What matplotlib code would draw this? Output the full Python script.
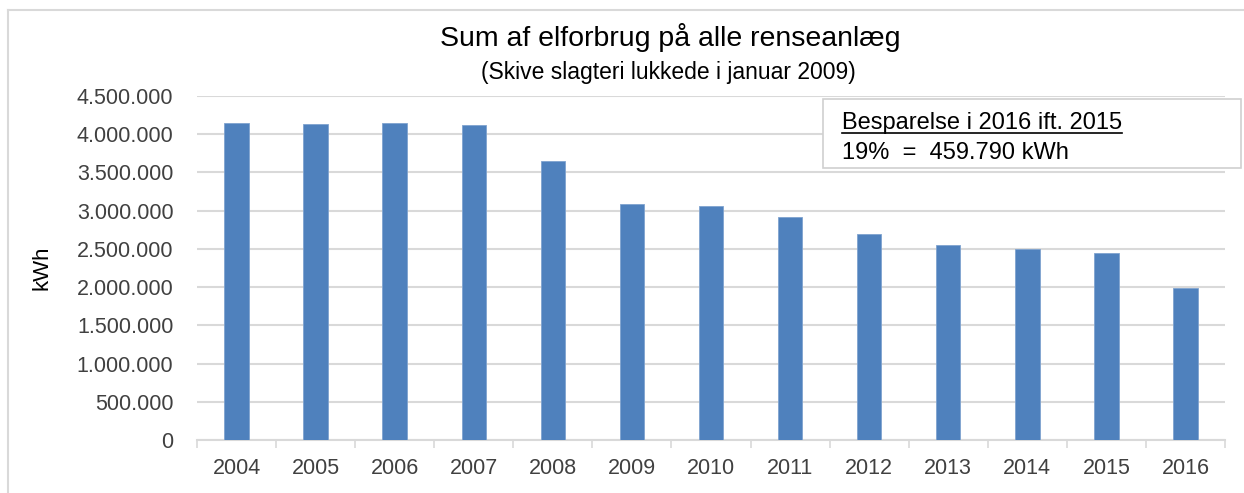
import matplotlib
matplotlib.use("Agg")
import matplotlib.pyplot as plt
import numpy as np
from matplotlib.lines import Line2D

plt.rcParams['font.family'] = ['Liberation Sans', 'DejaVu Sans']

years = ['2004', '2005', '2006', '2007', '2008', '2009', '2010',
         '2011', '2012', '2013', '2014', '2015', '2016']
kwh = [4147000, 4134000, 4147000, 4120000, 3646000, 3083000, 3061000,
       2917000, 2699000, 2555000, 2499000, 2446000, 1986000]
yticks = [0, 500000, 1000000, 1500000, 2000000, 2500000, 3000000,
          3500000, 4000000, 4500000]

W, H = 1244, 493
fig = plt.figure(figsize=(W / 100, H / 100), dpi=100)
ax = fig.add_axes([197 / W, 1 - 440 / H, (1225 - 197) / W, (440 - 96) / H])

x = np.arange(len(years))
ax.bar(x, kwh, width=0.31, color='#4F81BD', edgecolor='#7FA3CF', linewidth=0.6, zorder=3)

ax.set_xlim(-0.5, len(years) - 0.5)
ax.set_ylim(0, 4500000)
ax.set_yticks(yticks)
ax.set_yticklabels([f"{v:,}".replace(',', '.') for v in yticks])
ax.set_xticks(x)
ax.set_xticklabels(years)
ax.set_xticks(np.arange(-0.5, len(years)), minor=True)
ax.tick_params(axis='x', which='major', length=0, pad=13, labelsize=15.5, colors='#404040')
ax.tick_params(axis='x', which='minor', length=6, width=1.2, color='#d9d9d9')
ax.tick_params(axis='y', length=0, pad=17, labelsize=15.5, colors='#404040')
ax.grid(axis='y', color='#d9d9d9', linewidth=1.5, zorder=0)
for s in ['top', 'right', 'left']:
    ax.spines[s].set_visible(False)
ax.spines['bottom'].set_color('#d9d9d9')
ax.spines['bottom'].set_linewidth(1.5)
ax.set_ylabel('kWh', fontsize=16, color='black')
ax.yaxis.set_label_coords(-0.141, 0.5)

fig.text(670 / W, 1 - 37 / H, 'Sum af elforbrug på alle renseanlæg',
         ha='center', va='center', fontsize=20.5)
fig.text(668 / W, 1 - 72 / H, '(Skive slagteri lukkede i januar 2009)',
         ha='center', va='center', fontsize=16.5)

# outer chart frame
fig.add_artist(Line2D([8 / W, 8 / W], [0, 1 - 10 / H], color='#d9d9d9', lw=1.5))
fig.add_artist(Line2D([8 / W, 1], [1 - 10 / H, 1 - 10 / H], color='#d9d9d9', lw=1.5))

# annotation box
bx0, by0, bx1, by1 = 823, 99, 1241, 168
fig.add_artist(plt.Rectangle((bx0 / W, 1 - by1 / H), (bx1 - bx0) / W, (by1 - by0) / H,
                             facecolor='white', edgecolor='#d0d0d0', lw=1.2, zorder=5))
t1 = fig.text(842 / W, 1 - 123 / H, 'Besparelse i 2016 ift. 2015',
              ha='left', va='center', fontsize=17, zorder=6)
fig.text(842 / W, 1 - 153 / H, '19%  =  459.790 kWh',
         ha='left', va='center', fontsize=17, zorder=6)
fig.canvas.draw()
bb = t1.get_window_extent()
fig.add_artist(Line2D([bb.x0 / W, bb.x1 / W], [(bb.y0 + 1) / H, (bb.y0 + 1) / H],
                      color='black', lw=1.2, zorder=6))

fig.savefig('out.png', dpi=100)
